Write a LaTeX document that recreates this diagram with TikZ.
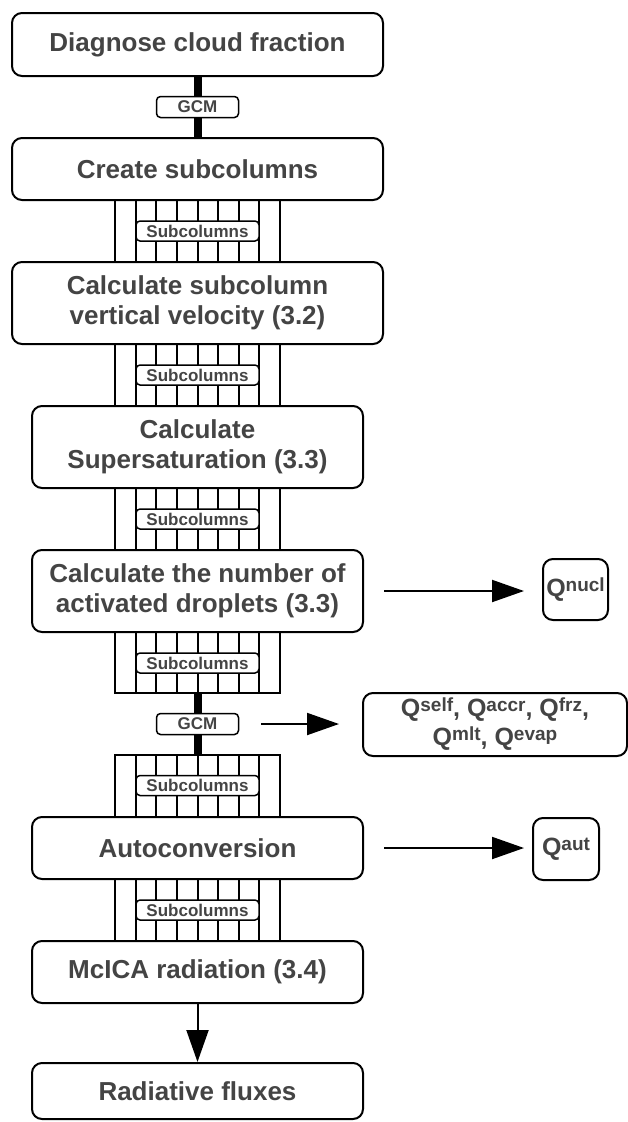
\documentclass[tikz,border=0pt]{standalone}
\usepackage{fontspec}
\setmainfont{Liberation Sans}
\usetikzlibrary{arrows.meta,calc}
\definecolor{txt}{HTML}{444444}
% a Q with a raised process name
\newcommand\qsup[1]{Q\raisebox{5pt}{\fontsize{19}{19}\selectfont #1}}
\begin{document}
\begin{tikzpicture}[x=1pt,y=-1pt,
  stepbox/.style={draw, line width=2pt, rounded corners=10pt, fill=white, text=txt,
    font=\fontsize{26}{30}\selectfont\bfseries, align=center, inner sep=0pt},
  widebox/.style={stepbox, minimum width=371pt},
  narrowbox/.style={stepbox, minimum width=331pt},
  qbox/.style={draw, line width=2pt, rounded corners=10pt, fill=white, text=txt,
    font=\fontsize{25}{29}\selectfont\bfseries, align=center, inner sep=0pt},
  tag/.style={draw, line width=1.5pt, rounded corners=4pt, fill=white, text=txt,
    font=\fontsize{17}{17}\selectfont\bfseries, inner sep=0pt,
    minimum width=123pt, minimum height=20pt},
  gcmtag/.style={tag, minimum width=82pt, minimum height=21pt},
  band/.style={line width=2pt},
  gcmline/.style={line width=8pt},
  flow/.style={line width=2pt, -{Triangle[length=32pt,width=22pt]}}]
\useasboundingbox (0,0) rectangle (628,1122);

% main column of steps
\node[widebox, minimum height=63pt] (diag) at (197.5,44.5) {Diagnose cloud fraction};
\node[widebox, minimum height=62pt] (create) at (197.5,169) {Create subcolumns};
\node[widebox, minimum height=82pt] (vel) at (197.5,303) {Calculate subcolumn\\vertical velocity (3.2)};
\node[narrowbox, minimum height=82pt] (ssat) at (197.5,447) {Calculate\\Supersaturation (3.3)};
\node[narrowbox, minimum height=82pt] (act) at (197.5,591) {Calculate the number of\\activated droplets (3.3)};
\coordinate (bandEnd) at (197.5,693);
\coordinate (bandStart) at (197.5,755);
\node[narrowbox, minimum height=62pt] (auto) at (197.5,848) {Autoconversion};
\node[narrowbox, minimum height=62pt] (mcica) at (197.5,972) {McICA radiation (3.4)};
\node[narrowbox, minimum height=56pt] (flux) at (197.5,1091) {Radiative fluxes};

% outputs on the right
\node[qbox, minimum width=65pt, minimum height=61pt] (qnucl) at (575.5,589.5) {\qsup{nucl}};
\node[qbox, minimum width=264pt, minimum height=63pt] (qproc) at (495,724.5)
  {\qsup{self}, \qsup{accr}, \qsup{frz},\\\qsup{mlt}, \qsup{evap}};
\node[qbox, minimum width=66pt, minimum height=62pt] (qaut) at (566,849) {\qsup{aut}};

% subcolumn bands: nine vertical strips between two ends
\newcommand\subband[2]{%
  \foreach \i in {0,...,8}{%
    \pgfmathsetmacro\dx{-82.5+20.625*\i}
    \draw[band] ($(#1)+(\dx,0)$) -- ($(#2)+(\dx,0)$);}}
\subband{create.south}{vel.north}
\subband{vel.south}{ssat.north}
\subband{ssat.south}{act.north}
\subband{act.south}{bandEnd}
\subband{bandStart}{auto.north}
\subband{auto.south}{mcica.north}
\draw[band] ($(bandEnd)+(-83.5,0)$) -- ($(bandEnd)+(83.5,0)$);
\draw[band] ($(bandStart)+(-83.5,0)$) -- ($(bandStart)+(83.5,0)$);

\node[tag] (sub1) at ($(create.south)!0.5!(vel.north)$) {Subcolumns};
\node[tag] (sub2) at ($(vel.south)!0.5!(ssat.north)$) {Subcolumns};
\node[tag] (sub3) at ($(ssat.south)!0.5!(act.north)$) {Subcolumns};
\node[tag] (sub4) at ($(act.south)!0.5!(bandEnd)$) {Subcolumns};
\node[tag] (sub5) at ($(bandStart)!0.5!(auto.north)$) {Subcolumns};
\node[tag] (sub6) at ($(auto.south)!0.5!(mcica.north)$) {Subcolumns};

% grid-scale passes
\draw[gcmline] (diag.south) -- (create.north);
\node[gcmtag] (gcmA) at ($(diag.south)!0.5!(create.north)$) {GCM};
\draw[gcmline] (bandEnd) -- (bandStart);
\node[gcmtag] (gcmB) at (197.5,724) {GCM};

% connectors
\draw[flow, shorten <=20pt, shorten >=18pt] (act.east) -- (act.east -| qnucl.west);
\draw[flow, shorten <=22pt, shorten >=23pt] (gcmB.east) -- (gcmB.east -| qproc.west);
\draw[flow, shorten <=20pt, shorten >=8pt] (auto.east) -- (auto.east -| qaut.west);
\draw[flow] (mcica.south) -- (flux.north);
\end{tikzpicture}
\end{document}
